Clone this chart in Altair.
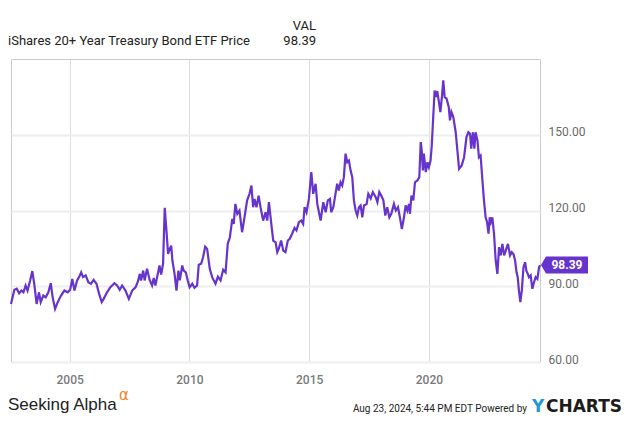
import altair as alt
import pandas as pd

# decimal years and prices
years = [2002.55, 2002.69, 2002.79, 2002.89, 2002.99, 2003.07, 2003.16, 2003.24, 2003.35, 2003.44,
         2003.52, 2003.62, 2003.72, 2003.79, 2003.90, 2004.00, 2004.11, 2004.21, 2004.29, 2004.39,
         2004.50, 2004.64, 2004.78, 2004.92, 2005.02, 2005.11, 2005.20, 2005.31, 2005.39, 2005.48,
         2005.56, 2005.67, 2005.78, 2005.89, 2006.00, 2006.12, 2006.23, 2006.34, 2006.42, 2006.56,
         2006.70, 2006.87, 2006.98, 2007.09, 2007.19, 2007.33, 2007.47, 2007.61, 2007.75, 2007.84,
         2007.93, 2007.98, 2008.07, 2008.13, 2008.23, 2008.34, 2008.44, 2008.51, 2008.58, 2008.68,
         2008.75, 2008.82, 2008.90, 2008.97, 2009.04, 2009.11, 2009.18, 2009.24, 2009.29, 2009.38,
         2009.46, 2009.54, 2009.60, 2009.70, 2009.76, 2009.85, 2009.93, 2010.01, 2010.12, 2010.21,
         2010.32, 2010.39, 2010.49, 2010.57, 2010.66, 2010.74, 2010.85, 2010.95, 2011.09, 2011.19,
         2011.30, 2011.41, 2011.51, 2011.60, 2011.69, 2011.79, 2011.85, 2011.92, 2012.00, 2012.09,
         2012.20, 2012.30, 2012.41, 2012.51, 2012.59, 2012.66, 2012.72, 2012.80, 2012.89, 2012.97,
         2013.08, 2013.18, 2013.25, 2013.32, 2013.42, 2013.50, 2013.60, 2013.67, 2013.73, 2013.83,
         2013.92, 2014.01, 2014.11, 2014.19, 2014.29, 2014.39, 2014.47, 2014.57, 2014.67, 2014.75,
         2014.81, 2014.89, 2014.99, 2015.09, 2015.17, 2015.27, 2015.34, 2015.41, 2015.48, 2015.59,
         2015.69, 2015.78, 2015.87, 2015.92, 2016.01, 2016.10, 2016.17, 2016.24, 2016.31, 2016.38,
         2016.45, 2016.52, 2016.59, 2016.66, 2016.73, 2016.80, 2016.87, 2016.94, 2017.01, 2017.08,
         2017.15, 2017.22, 2017.29, 2017.40, 2017.47, 2017.57, 2017.66, 2017.78, 2017.85, 2017.93,
         2018.01, 2018.10, 2018.18, 2018.26, 2018.35, 2018.43, 2018.54, 2018.62, 2018.71, 2018.79,
         2018.87, 2018.96, 2019.03, 2019.10, 2019.17, 2019.21, 2019.27, 2019.35, 2019.42, 2019.52,
         2019.60, 2019.66, 2019.70, 2019.75, 2019.79, 2019.87, 2019.94, 2020.00, 2020.07, 2020.12,
         2020.17, 2020.24, 2020.30, 2020.35, 2020.42, 2020.48, 2020.55, 2020.60, 2020.66, 2020.74,
         2020.83, 2020.88, 2020.94, 2021.02, 2021.12, 2021.19, 2021.26, 2021.37, 2021.47, 2021.57,
         2021.65, 2021.72, 2021.77, 2021.84, 2021.90, 2021.95, 2022.03, 2022.09, 2022.16, 2022.23,
         2022.30, 2022.37, 2022.43, 2022.49, 2022.54, 2022.59, 2022.65, 2022.72, 2022.79, 2022.86,
         2022.93, 2023.00, 2023.07, 2023.14, 2023.21, 2023.30, 2023.39, 2023.46, 2023.53, 2023.60,
         2023.66, 2023.71, 2023.76, 2023.82, 2023.88, 2023.95, 2024.02, 2024.07, 2024.13, 2024.18,
         2024.25, 2024.32, 2024.39, 2024.46, 2024.53, 2024.60, 2024.64]

prices = [83.0, 88.6, 89.0, 87.2, 88.3, 87.6, 90.3, 88.3, 92.3, 96.0,
          91.0, 83.0, 87.6, 83.7, 86.3, 85.6, 87.6, 91.2, 85.6, 81.0,
          83.7, 86.3, 88.3, 87.6, 88.6, 92.9, 88.3, 92.3, 93.6, 95.5,
          93.6, 94.3, 91.6, 91.0, 92.5, 91.0, 87.0, 83.7, 85.0, 87.6,
          89.6, 91.2, 90.3, 88.6, 90.3, 88.3, 85.0, 88.3, 89.6, 91.6,
          94.9, 92.3, 96.2, 92.3, 96.9, 92.5, 90.3, 93.3, 90.3, 94.9,
          98.2, 94.6, 98.9, 121.1, 112.1, 102.8, 104.8, 106.1, 100.2, 94.9,
          88.3, 96.2, 92.3, 98.2, 96.2, 95.5, 92.3, 89.6, 91.0, 89.4,
          90.3, 98.5, 98.9, 101.5, 105.7, 104.8, 96.9, 93.6, 91.0, 93.8,
          92.3, 96.5, 95.5, 106.8, 109.4, 116.7, 114.7, 122.6, 118.7, 120.0,
          111.4, 117.3, 124.0, 126.6, 129.9, 121.3, 124.6, 121.3, 125.9, 121.3,
          116.0, 119.3, 116.0, 123.3, 114.7, 108.1, 107.4, 103.5, 104.8, 108.1,
          104.1, 103.5, 108.1, 108.8, 110.8, 113.1, 112.1, 115.4, 116.0, 114.7,
          121.3, 119.3, 124.6, 135.2, 126.6, 130.6, 122.6, 119.3, 116.0, 123.3,
          119.3, 124.0, 124.6, 119.3, 121.3, 126.6, 130.6, 127.9, 131.2, 129.9,
          133.2, 142.5, 139.1, 139.8, 135.9, 133.2, 124.0, 120.0, 118.0, 121.3,
          122.0, 117.3, 122.0, 122.6, 126.6, 124.8, 127.3, 125.3, 123.3, 127.3,
          125.9, 124.0, 118.0, 121.3, 117.3, 118.7, 122.6, 120.0, 121.3, 117.3,
          112.7, 117.3, 122.0, 120.0, 122.6, 118.7, 125.9, 124.0, 131.2, 131.9,
          133.2, 147.1, 143.8, 135.9, 142.5, 135.2, 139.1, 137.2, 139.8, 145.7,
          155.0, 167.5, 164.9, 167.3, 162.9, 159.0, 165.6, 171.5, 164.9, 164.3,
          160.9, 155.7, 159.0, 157.0, 151.0, 143.8, 136.5, 137.8, 141.1, 149.1,
          151.0, 150.4, 144.5, 151.0, 144.5, 151.0, 147.7, 141.1, 141.8, 132.6,
          124.0, 117.3, 115.4, 110.8, 117.3, 115.4, 117.3, 110.8, 100.2, 94.9,
          105.5, 102.2, 106.8, 102.2, 104.1, 106.8, 102.2, 103.5, 102.8, 100.2,
          95.5, 93.6, 88.3, 83.7, 88.3, 97.5, 99.5, 96.2, 94.9, 93.6,
          94.3, 89.0, 91.6, 93.6, 92.9, 97.5, 98.39]

x_ticks = [2005, 2010, 2015, 2020]
y_ticks = [60, 90, 120, 150]
last_value = 98.39
series_name = "iShares 20+ Year Treasury Bond ETF Price"

PURPLE = "#6633cc"
W, H = 529, 303

df = pd.DataFrame({"year": years, "price": prices})

xscale = alt.Scale(domain=[years[0], years[-1]], nice=False, zero=False)
yscale = alt.Scale(domain=[60, 180], nice=False, zero=False)

line = alt.Chart(df).mark_line(color=PURPLE, strokeWidth=2.2).encode(
    x=alt.X("year:Q", scale=xscale,
            axis=alt.Axis(values=x_ticks, format="d", title=None, grid=True,
                          gridColor="#dedede", gridWidth=1, domain=False, ticks=False,
                          labelColor="#7a7a7a", labelFontSize=12, labelFont="Roboto",
                          labelPadding=12, labelFontWeight=500)),
    y=alt.Y("price:Q", scale=yscale,
            axis=alt.Axis(orient="right", values=y_ticks, format=".2f", title=None,
                          grid=True, gridColor="#eeeeee", gridWidth=2, domain=False,
                          ticks=False, labelColor="#6a6a6a", labelFontSize=12,
                          labelFont="Roboto", labelPadding=8, labelBaseline="alphabetic",
                          labelOffset=1)),
)

tag_df = pd.DataFrame({"price": [last_value], "label": [f"{last_value:.2f}"]})
tag_shape = "M-1,0 L-0.79,-0.36 L1,-0.36 L1,0.36 L-0.79,0.36 Z"
tag = alt.Chart(tag_df).mark_point(shape=tag_shape, size=2209, filled=True,
                                   color=PURPLE, opacity=1, strokeWidth=0).encode(
    x=alt.value(553.5), y=alt.Y("price:Q", scale=yscale))
tag_text = alt.Chart(tag_df).mark_text(color="white", font="Roboto", fontSize=12,
                                       fontWeight="bold", baseline="middle",
                                       align="center").encode(
    x=alt.value(556), y=alt.Y("price:Q", scale=yscale), text="label:N")

one = pd.DataFrame({"a": [0]})


def label(text, x, y, **kw):
    return alt.Chart(one).mark_text(text=text, **kw).encode(x=alt.value(x), y=alt.value(y))


texts = [
    label(series_name, -3, -14, align="left", baseline="alphabetic", font="Roboto",
          fontSize=13, color="#222222"),
    label("VAL", 305, -29, align="right", baseline="alphabetic", font="Roboto",
          fontSize=13, color="#222222"),
    label(f"{last_value:.2f}", 305, -14, align="right", baseline="alphabetic", font="Roboto",
          fontSize=13, color="#222222"),
    label("Seeking Alpha", -3, 351, align="left", baseline="alphabetic",
          font="Liberation Sans", fontSize=17, color="#222222"),
    label("\u03b1", 108, 336, align="left", baseline="middle", font="DejaVu Sans",
          fontSize=15, color="#f5821f"),
    label("Aug 23, 2024, 5:44 PM EDT Powered by", 516, 353, align="right",
          baseline="alphabetic", font="Roboto", fontSize=10, color="#222222"),
    label("Y", 521, 353, align="left", baseline="alphabetic", font="DejaVu Sans",
          fontSize=17, fontWeight="bold", color="#1b9ad6"),
    label("CHARTS", 535, 353, align="left", baseline="alphabetic", font="DejaVu Sans",
          fontSize=17, fontWeight="bold", color="#1c1c1c"),
]

chart = alt.layer(line, tag, tag_text, *texts).properties(
    width=W, height=H,
    autosize=alt.AutoSizeParams(type="none"),
    padding={"left": 3, "top": 51, "right": 87, "bottom": 54},
    background="white",
).configure_view(stroke="#cccccc", strokeWidth=1)

chart.save("out.html", embed_options={"renderer": "svg", "actions": False})
